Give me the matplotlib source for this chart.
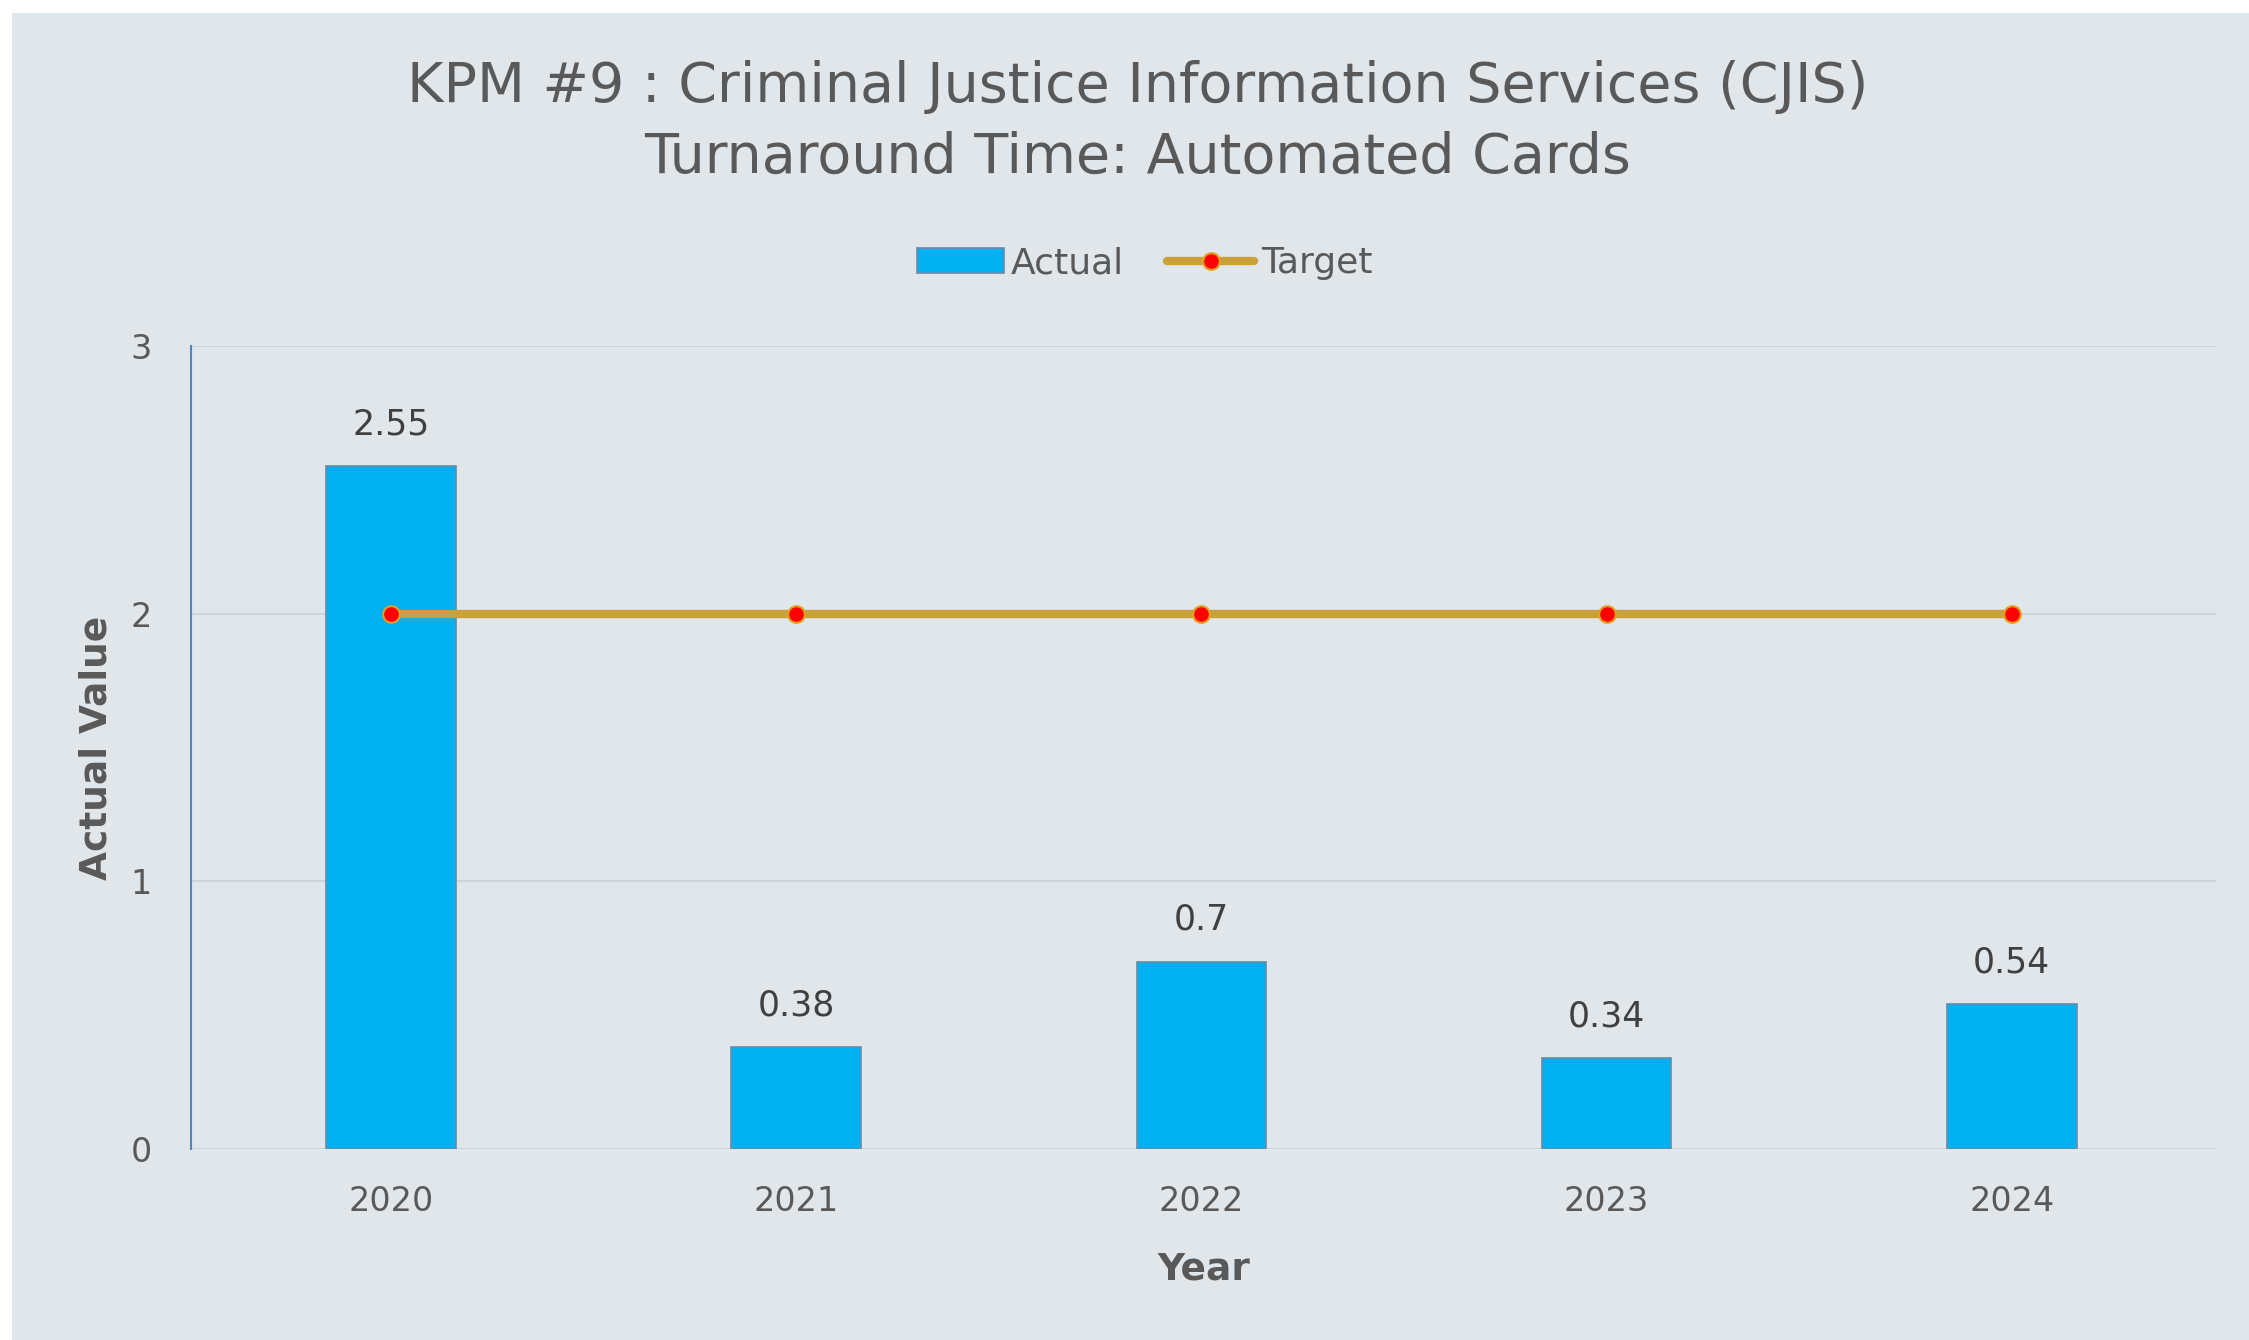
import matplotlib
matplotlib.use("Agg")
import matplotlib.pyplot as plt
from matplotlib.patches import Rectangle

years = ["2020", "2021", "2022", "2023", "2024"]
actual = [2.55, 0.38, 0.7, 0.34, 0.54]
target = [2, 2, 2, 2, 2]
yticks = [0, 1, 2, 3]

bg = "#E1E6EA"
txt = "#595959"

plt.rcParams['font.family'] = ['DejaVu Sans']

fig = plt.figure(figsize=(22.49, 13.40), dpi=100)
fig.patch.set_facecolor("white")
fig.patches.append(Rectangle((12 / 2249, 0), 1, 1 - 13 / 1340, transform=fig.transFigure,
                             facecolor=bg, edgecolor="none", zorder=-10))

ax = fig.add_axes([0.0849, 0.1425, 0.9004, 0.5993])
ax.set_facecolor(bg)

x = list(range(len(years)))
bars = ax.bar(x, actual, width=0.32, color="#00B0F0", edgecolor="#6A8BA8", linewidth=1.2,
              label="Actual", zorder=3)
line, = ax.plot(x, target, color="#C9A03A", linewidth=6, marker="o", markersize=12,
                markerfacecolor="#FF0000", markeredgecolor="#E0A020", markeredgewidth=1.5,
                label="Target", zorder=4, solid_capstyle="round")

for xi, v in zip(x, actual):
    ax.annotate(f"{v:g}", (xi, v), xytext=(0, 18), textcoords="offset points",
                ha="center", va="bottom", fontsize=25, color="#404040")

ax.set_xlim(-0.494, 4.504)
ax.set_ylim(0, 3)
ax.set_yticks(yticks)
ax.set_xticks(x)
ax.set_xticklabels(years)
ax.tick_params(axis="both", length=0, labelsize=24, labelcolor=txt)
ax.tick_params(axis="y", pad=28)
ax.tick_params(axis="x", pad=26)
ax.grid(axis="y", color="#CDD2D6", linewidth=1.3, zorder=0)
for s in ["top", "right", "bottom"]:
    ax.spines[s].set_visible(False)
ax.spines["left"].set_color("#5A84B5")
ax.spines["left"].set_linewidth(1.5)

ax.set_xlabel("Year", fontsize=27, color=txt, fontweight="bold", labelpad=24)
ax.set_ylabel("Actual Value", fontsize=27, color=txt, fontweight="bold", labelpad=12)

fig.text(0.506, 0.909, "KPM #9 : Criminal Justice Information Services (CJIS)\nTurnaround Time: Automated Cards",
         ha="center", va="center", fontsize=40, color=txt, linespacing=1.4)

ax.legend([bars, line], ["Actual", "Target"], loc="center", bbox_to_anchor=(0.471, 1.103),
          ncol=2, frameon=False, fontsize=26, labelcolor=txt, handlelength=2.4,
          handleheight=0.7, handletextpad=0.2, columnspacing=1.2)

fig.savefig("out.png", dpi=100, facecolor=fig.get_facecolor())
